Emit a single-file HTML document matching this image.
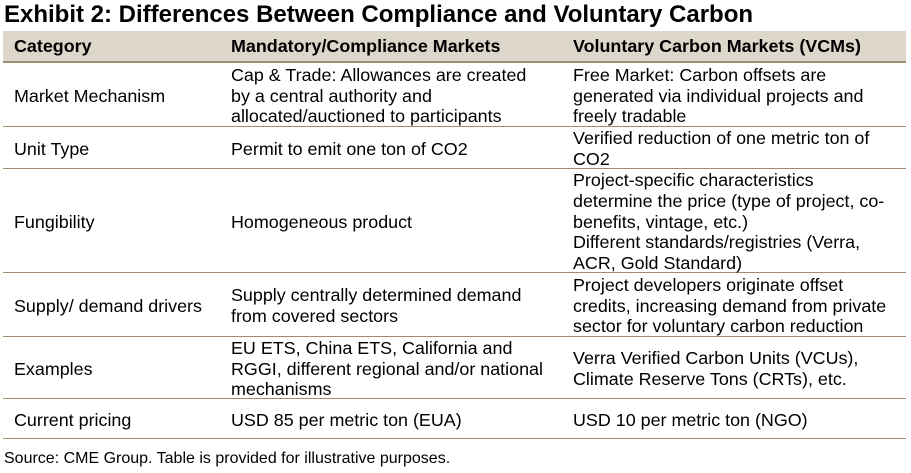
<!DOCTYPE html>
<html><head><meta charset="utf-8"><style>
body{margin:0;width:911px;height:473px;background:#fff;font-family:"Liberation Sans",Arial,sans-serif;color:#000;position:relative;overflow:hidden}
.t{position:absolute;left:4px;top:0px;font-weight:bold;font-size:24px;white-space:nowrap;line-height:30px}
.tb{position:absolute;left:3px;top:31px;width:903px}
.r{display:flex;align-items:center;border-bottom:1px solid #a08c6e;box-sizing:border-box;font-size:17.9px;line-height:20.7px;padding-top:3px}
.r>div{white-space:nowrap}
.c1{padding-left:11px;width:217px}
.c2{width:342px}
.c3{flex:1}
.h{background:#ddd6ca;font-weight:bold;border-bottom:2px solid #a08c6e;padding-top:0}
.s{position:absolute;left:4px;top:450px;font-size:16px}
</style></head><body>
<div class="t">Exhibit 2: Differences Between Compliance and Voluntary Carbon</div>
<div class="tb">
<div class="r h" style="height:32px"><div class="c1">Category</div><div class="c2">Mandatory/Compliance Markets</div><div class="c3">Voluntary Carbon Markets (VCMs)</div></div>
<div class="r" style="height:64px"><div class="c1">Market Mechanism</div><div class="c2">Cap &amp; Trade: Allowances are created<br>by a central authority and<br>allocated/auctioned to participants</div><div class="c3">Free Market: Carbon offsets are<br>generated via individual projects and<br>freely tradable</div></div>
<div class="r" style="height:42px"><div class="c1">Unit Type</div><div class="c2">Permit to emit one ton of CO2</div><div class="c3">Verified reduction of one metric ton of<br>CO2</div></div>
<div class="r" style="height:104px"><div class="c1">Fungibility</div><div class="c2">Homogeneous product</div><div class="c3">Project-specific characteristics<br>determine the price (type of project, co-<br>benefits, vintage, etc.)<br>Different standards/registries (Verra,<br>ACR, Gold Standard)</div></div>
<div class="r" style="height:64px"><div class="c1">Supply/ demand drivers</div><div class="c2">Supply centrally determined demand<br>from covered sectors</div><div class="c3">Project developers originate offset<br>credits, increasing demand from private<br>sector for voluntary carbon reduction</div></div>
<div class="r" style="height:62px"><div class="c1">Examples</div><div class="c2">EU ETS, China ETS, California and<br>RGGI, different regional and/or national<br>mechanisms</div><div class="c3">Verra Verified Carbon Units (VCUs),<br>Climate Reserve Tons (CRTs), etc.</div></div>
<div class="r" style="height:40px"><div class="c1">Current pricing</div><div class="c2">USD 85 per metric ton (EUA)</div><div class="c3">USD 10 per metric ton (NGO)</div></div>
</div>
<div class="s">Source: CME Group. Table is provided for illustrative purposes.</div>
</body></html>
